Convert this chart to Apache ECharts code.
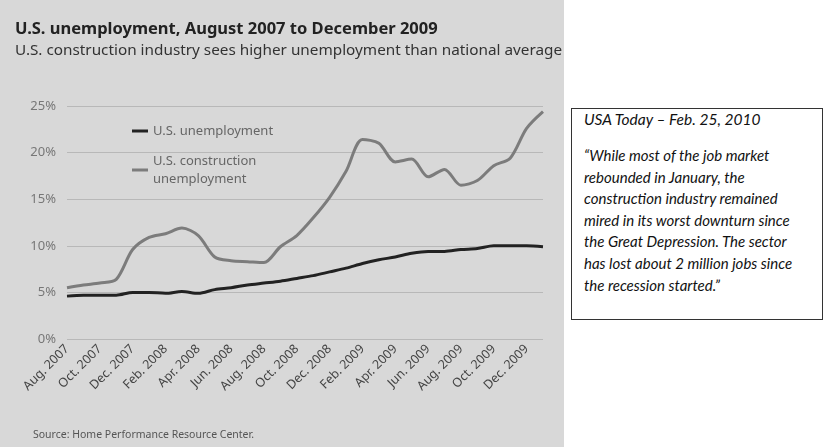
<!DOCTYPE html>
<html>
<head>
<meta charset="utf-8">
<script src="https://cdn.jsdelivr.net/npm/echarts@6/dist/echarts.min.js"></script>
<style>
    html, body{
        margin: 0;
        padding: 0;
        background: #fff;
        width: 825px;
        height: 447px;
        overflow: hidden;
    }
    #chartDiv{
        position: absolute;
        left: 0;
        top: 0;
        width: 564px;
        height: 447px;
        background: #d8d8d8;
    }
    .quoteBox{
        position: absolute;
        left: 571px;
        top: 108px;
        width: 238px;
        height: 198px;
        border: 1px solid #333;
        padding: 0 0 12px 12px;
        font-family: Lato, "Open Sans", sans-serif;
        font-style: italic;
        color: #111;
    }
    .quoteBox .head{
        font-size: 15.5px;
        margin-top: 0;
        line-height: 20px;
    }
    .quoteBox .text{
        font-size: 15px;
        line-height: 21.6px;
        margin-top: 16px;
        white-space: nowrap;
    }
</style>
</head>
<body>
<div id="chartDiv"></div>
<div class="quoteBox">
    <div class="head">USA Today – Feb. 25, 2010</div>
    <div class="text">“While most of the job market<br>rebounded in January, the<br>construction industry remained<br>mired in its worst downturn since<br>the Great Depression. The sector<br>has lost about 2 million jobs since<br>the recession started.”</div>
</div>
<script>
    // months Aug 2007 .. Jan 2010 (every other one labelled)
    var months = ['Aug. 2007', 'Sep. 2007', 'Oct. 2007', 'Nov. 2007', 'Dec. 2007',
        'Jan. 2008', 'Feb. 2008', 'Mar. 2008', 'Apr. 2008', 'May 2008', 'Jun. 2008',
        'Jul. 2008', 'Aug. 2008', 'Sep. 2008', 'Oct. 2008', 'Nov. 2008', 'Dec. 2008',
        'Jan. 2009', 'Feb. 2009', 'Mar. 2009', 'Apr. 2009', 'May 2009', 'Jun. 2009',
        'Jul. 2009', 'Aug. 2009', 'Sep. 2009', 'Oct. 2009', 'Nov. 2009', 'Dec. 2009',
        'Jan. 2010'];
    var usRate = [4.6, 4.7, 4.7, 4.7, 5.0, 5.0, 4.9, 5.1, 4.9, 5.3, 5.5, 5.8, 6.0, 6.2, 6.5,
        6.8, 7.2, 7.6, 8.1, 8.5, 8.8, 9.2, 9.4, 9.4, 9.6, 9.7, 10.0, 10.0, 10.0, 9.9];
    var constructionRate = [5.5, 5.8, 6.0, 6.4, 9.6, 10.9, 11.3, 11.9, 11.1, 8.8, 8.4, 8.3,
        8.2, 9.9, 11.1, 13.0, 15.2, 18.0, 21.4, 21.0, 19.0, 19.3, 17.4, 18.2, 16.5, 17.0,
        18.6, 19.4, 22.6, 24.4];
    var yTicks = [0, 5, 10, 15, 20, 25];

    var chart = echarts.init(document.getElementById('chartDiv'));
    var option = {
        textStyle: {
            fontFamily: '"Noto Sans", sans-serif'
        },
        title: [
            {
                text: 'U.S. unemployment, August 2007 to December 2009',
                subtext: 'U.S. construction industry sees higher unemployment than national average',
                left: 10,
                top: 16,
                itemGap: 5,
                textStyle: {
                    fontSize: 16.5,
                    fontWeight: 'bold',
                    color: '#222'
                },
                subtextStyle: {
                    fontSize: 15.3,
                    color: '#333'
                }
            },
            {
                text: 'Source: Home Performance Resource Center.',
                left: 28,
                top: 425,
                textStyle: {
                    fontSize: 10.5,
                    fontWeight: 'normal',
                    color: '#555'
                }
            }
        ],
        legend: {
            orient: 'vertical',
            left: 127,
            top: 117,
            itemWidth: 16,
            itemHeight: 3,
            itemGap: 12,
            icon: 'rect',
            formatter: function (name) {
                return name === 'U.S. construction unemployment' ? 'U.S. construction\nunemployment' : name;
            },
            textStyle: {
                fontSize: 13,
                color: '#666',
                lineHeight: 18
            }
        },
        grid: {
            left: 67,
            right: 21,
            top: 106,
            bottom: 108
        },
        xAxis: {
            type: 'category',
            data: months,
            boundaryGap: false,
            axisLine: { show: false },
            axisTick: { show: false },
            axisLabel: {
                interval: 1,
                rotate: 45,
                fontSize: 12.5,
                color: '#444',
                margin: 8
            }
        },
        yAxis: {
            type: 'value',
            min: yTicks[0],
            max: yTicks[yTicks.length - 1],
            interval: 5,
            axisLabel: {
                formatter: '{value}%',
                fontSize: 13,
                color: '#777',
                margin: 11
            },
            splitLine: {
                lineStyle: {
                    color: '#b8b8b8',
                    width: 1
                }
            }
        },
        series: [
            {
                name: 'U.S. unemployment',
                type: 'line',
                data: usRate,
                smooth: 0.3,
                showSymbol: false,
                color: '#222',
                lineStyle: { width: 3, color: '#222' }
            },
            {
                name: 'U.S. construction unemployment',
                type: 'line',
                data: constructionRate,
                smooth: 0.3,
                showSymbol: false,
                color: '#7c7c7c',
                lineStyle: { width: 3, color: '#7c7c7c' }
            }
        ]
    };
    chart.setOption(option);
</script>
</body>
</html>
